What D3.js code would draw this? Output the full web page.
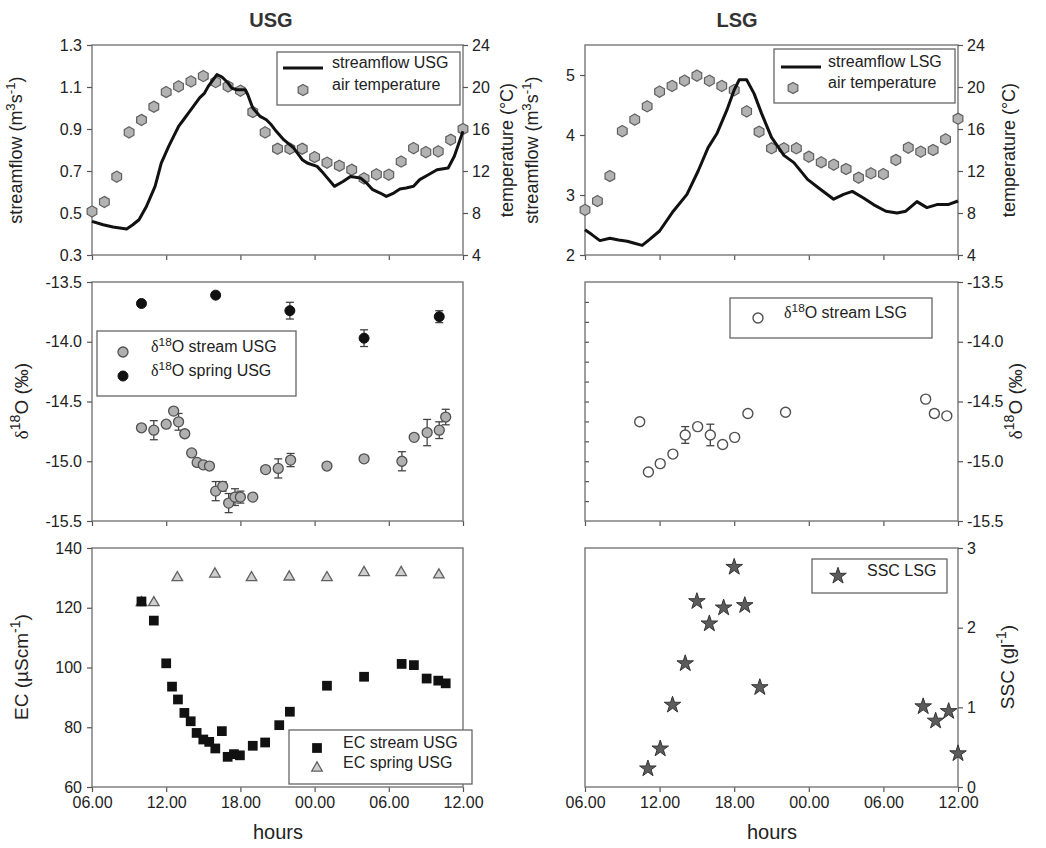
<!DOCTYPE html>
<html>
<head>
<meta charset="utf-8">
<script src="https://cdnjs.cloudflare.com/ajax/libs/d3/7.8.5/d3.min.js"></script>
<style>
  body { margin: 0; background: #fff; }
  text { font-family: "Liberation Sans", Arial, sans-serif; }
</style>
</head>
<body>
<svg id="chart" width="1046" height="848"></svg>
<script>
// time axis: hours since 06.00 on day 1
const hourTicks = [0, 6, 12, 18, 24, 30];
const hourLabels = ["06.00", "12.00", "18.00", "00.00", "06.00", "12.00"];

// hourly air temperature (°C), hour = index
const tempUSG = [8.15, 9.05, 11.46, 15.68, 16.86, 18.12, 19.52, 20.06, 20.53, 21.04, 20.47, 20.06, 19.65, 17.62, 15.68, 14.12, 14.12, 14.12, 13.33, 12.79, 12.5, 12.12, 11.3, 11.68, 11.65, 12.9, 14.18, 13.8, 13.87, 14.98, 16.0];
const tempLSG = [8.29, 9.14, 11.52, 15.8, 16.89, 18.16, 19.56, 20.1, 20.6, 21.08, 20.6, 20.1, 19.7, 17.68, 15.74, 14.16, 14.16, 14.16, 13.36, 12.83, 12.6, 12.19, 11.36, 11.78, 11.71, 13.05, 14.22, 13.84, 14.0, 15.02, 16.98];

// streamflow (m3/s)
const flowUSGHours = [0, 0.9, 1.7, 2.8, 3.3, 3.8, 4.4, 5.1, 5.6, 6.2, 6.6, 7.0, 7.4, 7.9, 8.3, 8.7, 9.1, 9.4, 9.8, 10.1, 10.4, 10.6, 11.0, 11.3, 11.7, 12.4, 12.6, 13.0, 13.6, 14.1, 14.5, 14.9, 15.5, 16.3, 17.0, 17.4, 18.2, 18.7, 19.6, 20.3, 20.9, 21.7, 22.2, 22.7, 23.3, 23.8, 24.4, 24.9, 25.4, 26.0, 26.5, 27.2, 27.9, 28.8, 29.3, 30];
const flowUSG = [0.460, 0.444, 0.433, 0.424, 0.444, 0.468, 0.531, 0.627, 0.738, 0.817, 0.865, 0.912, 0.944, 0.984, 1.016, 1.048, 1.071, 1.103, 1.135, 1.159, 1.151, 1.143, 1.119, 1.095, 1.087, 1.087, 1.063, 1.0, 0.96, 0.944, 0.92, 0.889, 0.849, 0.81, 0.754, 0.738, 0.722, 0.69, 0.627, 0.65, 0.674, 0.667, 0.643, 0.611, 0.595, 0.579, 0.595, 0.614, 0.619, 0.627, 0.659, 0.682, 0.706, 0.714, 0.77, 0.889];
const flowLSGHours = [0, 0.55, 1.2, 2.0, 2.7, 3.4, 3.9, 4.6, 5.2, 6.0, 7.1, 8.2, 9.1, 9.9, 10.6, 11.4, 12.0, 12.4, 13.0, 13.6, 14.2, 15.0, 16.0, 16.8, 17.9, 18.9, 20.0, 20.8, 21.5, 22.4, 23.2, 24.2, 25.1, 25.8, 26.7, 27.5, 28.3, 29.2, 30];
const flowLSG = [2.42, 2.34, 2.24, 2.28, 2.25, 2.23, 2.2, 2.16, 2.26, 2.4, 2.73, 3.01, 3.4, 3.79, 4.02, 4.41, 4.75, 4.92, 4.92, 4.69, 4.36, 3.96, 3.66, 3.54, 3.26, 3.1, 2.93, 3.01, 3.06, 2.95, 2.84, 2.73, 2.7, 2.73, 2.89, 2.79, 2.84, 2.84, 2.9];

// d18O (permil) with error
const isoStreamUSGHours = [4, 5, 6, 6.6, 7, 7.5, 8.06, 8.5, 9, 9.5, 10, 10.57, 11.05, 11.56, 12, 13, 14.04, 15.06, 16.06, 19, 22, 25.06, 26.05, 27.1, 28.08, 28.6];
const isoStreamUSG = [-14.72, -14.74, -14.69, -14.58, -14.67, -14.77, -14.93, -15.01, -15.03, -15.04, -15.25, -15.21, -15.35, -15.3, -15.3, -15.3, -15.07, -15.06, -14.99, -15.04, -14.98, -15.0, -14.8, -14.76, -14.74, -14.63];
const isoStreamUSGErr = [0, 0.08, 0.02, 0, 0.07, 0, 0, 0.02, 0.02, 0.02, 0.08, 0.04, 0.08, 0.07, 0.05, 0, 0, 0.08, 0.055, 0.02, 0, 0.08, 0, 0.11, 0.07, 0.065];
const isoSpringUSGHours = [4, 10, 16, 22, 28.08];
const isoSpringUSG = [-13.68, -13.61, -13.74, -13.97, -13.79];
const isoSpringUSGErr = [0, 0, 0.07, 0.07, 0.05];
const isoStreamLSGHours = [4.4, 5.1, 6.05, 7.07, 8.06, 9.06, 10.08, 11.07, 12.04, 13.1, 16.13, 27.4, 28.1, 29.1];
const isoStreamLSG = [-14.67, -15.09, -15.02, -14.94, -14.78, -14.71, -14.78, -14.86, -14.8, -14.6, -14.59, -14.48, -14.6, -14.62];
const isoStreamLSGErr = [0.02, 0, 0.03, 0, 0.07, 0.02, 0.09, 0, 0.02, 0, 0.02, 0.02, 0.03, 0];

// electrical conductivity (uS/cm)
const ecStreamHours = [4, 5, 6, 6.47, 6.95, 7.47, 7.98, 8.46, 9, 9.48, 9.97, 10.5, 10.97, 11.48, 11.96, 13, 14, 15.14, 16, 19, 22, 25.04, 26.03, 27.06, 28, 28.6];
const ecStream = [122.1, 115.7, 101.4, 93.6, 89.3, 84.8, 82.0, 78.1, 75.9, 75.1, 72.9, 78.7, 70.1, 71.0, 70.6, 73.8, 74.9, 80.7, 85.2, 93.9, 96.9, 101.2, 100.8, 96.3, 95.6, 94.7];
const ecSpringHours = [4, 5, 6.9, 9.94, 12.9, 15.95, 19, 22, 25, 28.05];
const ecSpring = [121.7, 121.7, 130.1, 131.3, 130.1, 130.3, 130.1, 131.8, 131.8, 131.0];

// suspended sediment concentration (g/l)
const sscHours = [5.06, 6.05, 7.04, 8.06, 9, 10, 11.15, 12, 12.85, 14.06, 27.2, 28.2, 29.25, 30];
const ssc = [0.23, 0.48, 1.03, 1.55, 2.33, 2.05, 2.25, 2.76, 2.28, 1.25, 1.01, 0.83, 0.95, 0.42];

const svg = d3.select("#chart");
const FONT = "'Liberation Sans', Arial, sans-serif";

// [bottom, top] of each panel row
const rows = [[255, 45], [521, 282], [787, 548]];
const xU = d3.scaleLinear().domain([0, 30]).range([92, 463]);
const xL = d3.scaleLinear().domain([0, 30]).range([585, 958]);

const yFlowU = d3.scaleLinear().domain([0.3, 1.3]).range(rows[0]);
const yFlowL = d3.scaleLinear().domain([2, 5.5]).range(rows[0]);
const yTemp = d3.scaleLinear().domain([4, 24]).range(rows[0]);
const yIso = d3.scaleLinear().domain([-15.5, -13.5]).range(rows[1]);
const yMinor = d3.scaleLinear().domain([0, 12]).range(rows[1]);
const yEC = d3.scaleLinear().domain([60, 140]).range(rows[2]);
const ySSC = d3.scaleLinear().domain([0, 3]).range(rows[2]);

function styleAxis(g) {
  g.attr("font-family", FONT);
  g.select(".domain").remove();
  g.selectAll(".tick line").attr("stroke", "#555").attr("stroke-width", 1.2);
  g.selectAll(".tick text").attr("font-size", 16).attr("fill", "#222");
}

function frame(x, row, showLabels) {
  const [x0, x1] = x.range();
  const [yb, yt] = rows[row];
  const g = svg.append("g")
    .attr("transform", `translate(0,${yb})`)
    .call(d3.axisBottom(x).tickValues(hourTicks).tickSize(5).tickSizeOuter(0).tickPadding(5)
      .tickFormat((d, i) => showLabels ? hourLabels[i] : ""));
  styleAxis(g);
  svg.append("rect")
    .attr("x", x0).attr("y", yt).attr("width", x1 - x0).attr("height", yb - yt)
    .attr("fill", "none").attr("stroke", "#777").attr("stroke-width", 1.4);
}

function leftAxis(x, scale, ticks, fmt) {
  const g = svg.append("g")
    .attr("transform", `translate(${x.range()[0]},0)`)
    .call(d3.axisLeft(scale).tickValues(ticks).tickSize(5).tickPadding(5).tickFormat(fmt));
  styleAxis(g);
}

function rightAxis(x, scale, ticks, fmt) {
  const g = svg.append("g")
    .attr("transform", `translate(${x.range()[1]},0)`)
    .call(d3.axisRight(scale).tickValues(ticks).tickSize(5).tickPadding(4).tickFormat(fmt));
  styleAxis(g);
}

// text with superscripts and greek delta
function rich(parent, parts, size) {
  const t = parent.append("text").attr("font-size", size).attr("fill", "#222").attr("font-family", FONT);
  let shift = 0;
  parts.forEach(([s, kind]) => {
    const target = kind === "sup" ? -size * 0.4 : 0;
    const ts = t.append("tspan").text(s).attr("dy", target - shift);
    shift = target;
    if (kind === "sup") ts.attr("font-size", size * 0.74);
    if (kind === "greek") ts.attr("font-family", "'Liberation Serif', serif");
  });
  return t;
}

function vLabel(x, y, parts, size) {
  rich(svg.append("g").attr("transform", `translate(${x},${y}) rotate(-90)`), parts, size)
    .attr("text-anchor", "middle").attr("dy", "0.35em");
}

function hexPath(r) {
  const pts = d3.range(6).map(i => {
    const a = Math.PI / 3 * i - Math.PI / 2;
    return [r * Math.cos(a), r * Math.sin(a)];
  });
  return "M" + pts.join("L") + "Z";
}

const markers = {
  hex: g => g.append("path").attr("d", hexPath(5.6)).attr("fill", "#b2b2b2").attr("stroke", "#606060").attr("stroke-width", 1.2),
  grayCircle: g => g.append("circle").attr("r", 5).attr("fill", "#b0b0b0").attr("stroke", "#505050").attr("stroke-width", 1.3),
  blackCircle: g => g.append("circle").attr("r", 5).attr("fill", "#111").attr("stroke", "#111"),
  openCircle: g => g.append("circle").attr("r", 5).attr("fill", "#fff").attr("stroke", "#505050").attr("stroke-width", 1.4),
  square: g => g.append("path").attr("d", d3.symbol(d3.symbolSquare, 95)()).attr("fill", "#111"),
  triangle: g => g.append("path").attr("d", d3.symbol(d3.symbolTriangle, 48)()).attr("fill", "#cfcfcf").attr("stroke", "#606060").attr("stroke-width", 1.3),
  star: g => g.append("path").attr("d", d3.symbol(d3.symbolStar, 85)()).attr("fill", "#5c5c5c").attr("stroke", "#333").attr("stroke-width", 1)
};

function points(x, y, hours, values, kind) {
  svg.append("g").selectAll("g")
    .data(d3.zip(hours, values))
    .join("g")
    .attr("transform", d => `translate(${x(d[0])},${y(d[1])})`)
    .each(function () { markers[kind](d3.select(this)); });
}

function errorBars(x, y, hours, values, errs) {
  const data = d3.zip(hours, values, errs).filter(d => d[2] > 0);
  const g = svg.append("g").attr("stroke", "#444").attr("stroke-width", 1.3);
  data.forEach(d => {
    const cx = x(d[0]);
    const top = y(d[1] + d[2]), bot = y(d[1] - d[2]);
    g.append("line").attr("x1", cx).attr("x2", cx).attr("y1", top).attr("y2", bot);
    g.append("line").attr("x1", cx - 4).attr("x2", cx + 4).attr("y1", top).attr("y2", top);
    g.append("line").attr("x1", cx - 4).attr("x2", cx + 4).attr("y1", bot).attr("y2", bot);
  });
}

function flowLine(x, y, hours, values) {
  svg.append("path")
    .datum(d3.zip(hours, values))
    .attr("fill", "none").attr("stroke", "#111").attr("stroke-width", 3)
    .attr("stroke-linejoin", "round")
    .attr("d", d3.line().x(d => x(d[0])).y(d => y(d[1])));
}

function legend(box, items) {
  const [lx, ly, lw, lh, mx, tx] = box;
  svg.append("rect").attr("x", lx).attr("y", ly).attr("width", lw).attr("height", lh)
    .attr("fill", "#fff").attr("stroke", "#666").attr("stroke-width", 1.3);
  items.forEach(it => {
    if (it.kind === "line") {
      svg.append("line").attr("x1", mx - 20).attr("x2", mx + 20).attr("y1", it.y).attr("y2", it.y)
        .attr("stroke", "#111").attr("stroke-width", 3);
    } else {
      markers[it.kind](svg.append("g").attr("transform", `translate(${it.mx || mx},${it.y})`));
    }
    rich(svg, it.parts, 16).attr("x", tx).attr("y", it.y).attr("dy", "0.36em");
  });
}

const fmt1 = d => d.toFixed(1);
const fmt0 = d => d.toFixed(0);
const deltaParts = [["δ", "greek"], ["18", "sup"], ["O (‰)", "norm"]];

// ---------- frames ----------
frame(xU, 0, false); frame(xU, 1, false); frame(xU, 2, true);
frame(xL, 0, false); frame(xL, 1, false); frame(xL, 2, true);

// ---------- USG column ----------
leftAxis(xU, yFlowU, [0.3, 0.5, 0.7, 0.9, 1.1, 1.3], fmt1);
rightAxis(xU, yTemp, [4, 8, 12, 16, 20, 24], fmt0);
points(xU, yTemp, d3.range(tempUSG.length), tempUSG, "hex");
flowLine(xU, yFlowU, flowUSGHours, flowUSG);
legend([277, 52, 183, 53, 303, 332], [
  { kind: "line", y: 68, parts: [["streamflow USG", "norm"]] },
  { kind: "hex", y: 90, parts: [["air temperature", "norm"]] }
]);

leftAxis(xU, yIso, [-15.5, -15, -14.5, -14, -13.5], fmt1);
errorBars(xU, yIso, isoStreamUSGHours, isoStreamUSG, isoStreamUSGErr);
errorBars(xU, yIso, isoSpringUSGHours, isoSpringUSG, isoSpringUSGErr);
points(xU, yIso, isoStreamUSGHours, isoStreamUSG, "grayCircle");
points(xU, yIso, isoSpringUSGHours, isoSpringUSG, "blackCircle");
legend([97, 331, 199, 65, 123, 151], [
  { kind: "grayCircle", y: 352, parts: [["δ", "greek"], ["18", "sup"], ["O stream USG", "norm"]] },
  { kind: "blackCircle", y: 376, parts: [["δ", "greek"], ["18", "sup"], ["O spring USG", "norm"]] }
]);

leftAxis(xU, yEC, [60, 80, 100, 120, 140], fmt0);
points(xU, yEC, ecSpringHours, ecSpring, "triangle");
points(xU, yEC, ecStreamHours, ecStream, "square");
legend([289, 730, 183, 54, 317, 343], [
  { kind: "square", y: 748, parts: [["EC stream USG", "norm"]] },
  { kind: "triangle", y: 768, parts: [["EC spring USG", "norm"]] }
]);

// ---------- LSG column ----------
leftAxis(xL, yFlowL, [2, 3, 4, 5], fmt0);
rightAxis(xL, yTemp, [4, 8, 12, 16, 20, 24], fmt0);
points(xL, yTemp, d3.range(tempLSG.length), tempLSG, "hex");
flowLine(xL, yFlowL, flowLSGHours, flowLSG);
legend([774, 49, 181, 54, 801, 828], [
  { kind: "line", y: 67, parts: [["streamflow LSG", "norm"]] },
  { kind: "hex", y: 88, mx: 793, parts: [["air temperature", "norm"]] }
]);

styleAxis(svg.append("g").attr("transform", `translate(${xL.range()[0]},0)`)
  .call(d3.axisLeft(yMinor).tickValues(d3.range(1, 12)).tickSize(-4).tickFormat("")));
rightAxis(xL, yIso, [-15.5, -15, -14.5, -14, -13.5], fmt1);
errorBars(xL, yIso, isoStreamLSGHours, isoStreamLSG, isoStreamLSGErr);
points(xL, yIso, isoStreamLSGHours, isoStreamLSG, "openCircle");
legend([730, 298, 202, 40, 758, 784], [
  { kind: "openCircle", y: 318, parts: [["δ", "greek"], ["18", "sup"], ["O stream LSG", "norm"]] }
]);

rightAxis(xL, ySSC, [0, 1, 2, 3], fmt0);
points(xL, ySSC, sscHours, ssc, "star");
legend([812, 559, 135, 34, 838, 867], [
  { kind: "star", y: 576, parts: [["SSC LSG", "norm"]] }
]);

// ---------- titles and axis labels ----------
svg.append("text").attr("x", 271).attr("y", 27).attr("text-anchor", "middle")
  .attr("font-size", 20).attr("font-weight", "bold").attr("fill", "#333").text("USG");
svg.append("text").attr("x", 737).attr("y", 27).attr("text-anchor", "middle")
  .attr("font-size", 20).attr("font-weight", "bold").attr("fill", "#333").text("LSG");

const flowParts = [["streamflow (m", "norm"], ["3", "sup"], ["s", "norm"], ["-1", "sup"], [")", "norm"]];
const tempParts = [["temperature (°C)", "norm"]];
vLabel(22, 150, flowParts, 18);
vLabel(28, 401, deltaParts, 19);
vLabel(28, 667, [["EC (µScm", "norm"], ["-1", "sup"], [")", "norm"]], 19);
vLabel(513, 150, tempParts, 18);
vLabel(538, 150, flowParts, 18);
vLabel(1015, 150, tempParts, 18);
vLabel(1022, 401, deltaParts, 19);
vLabel(1014, 667, [["SSC (gl", "norm"], ["-1", "sup"], [")", "norm"]], 19);

svg.append("text").attr("x", 278).attr("y", 839).attr("text-anchor", "middle")
  .attr("font-size", 20).attr("fill", "#222").text("hours");
svg.append("text").attr("x", 772).attr("y", 839).attr("text-anchor", "middle")
  .attr("font-size", 20).attr("fill", "#222").text("hours");
</script>
</body>
</html>
